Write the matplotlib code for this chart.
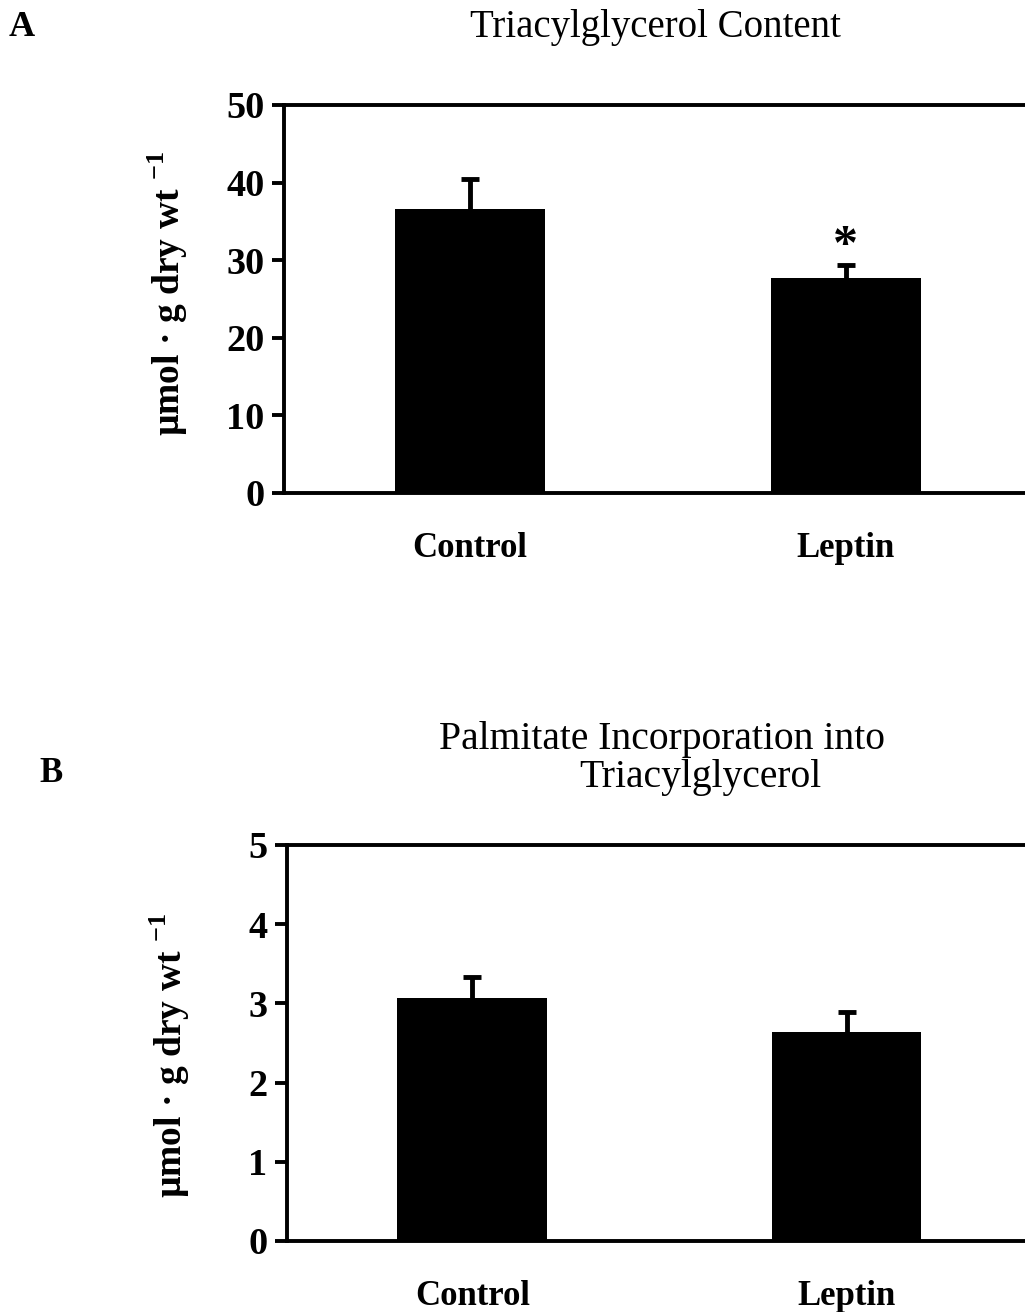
import matplotlib
matplotlib.use("Agg")
from matplotlib import pyplot as plt

# values
groups = ["Control", "Leptin"]
tag_means = [36.6, 27.7]
tag_sem = [3.9, 1.7]
palm_means = [3.07, 2.64]
palm_sem = [0.26, 0.25]
significant = [False, True]

plt.rcParams["font.family"] = ["Liberation Serif", "DejaVu Serif"]
plt.rcParams["mathtext.fontset"] = "custom"
plt.rcParams["mathtext.rm"] = "Liberation Serif:bold"
plt.rcParams["mathtext.bf"] = "Liberation Serif:bold"

W, H = 1025, 1312
fig = plt.figure(figsize=(W / 100, H / 100), dpi=100)


def make_axes(left_px, top_px, bottom_px):
    return fig.add_axes([left_px / W, (H - bottom_px) / H,
                         (W + 5 - left_px) / W, (bottom_px - top_px) / H])


def draw_panel(ax, means, sem, ymax, step, stars=None):
    x = list(range(len(groups)))
    ax.bar(x, means, width=0.40, color="black", zorder=2)
    eb = ax.errorbar(x, means, yerr=[[0] * len(sem), sem], fmt="none",
                     ecolor="black", elinewidth=3.5, capsize=6.5, capthick=3.5, zorder=1)
    # only the upper cap is drawn in the original
    eb[1][0].set_visible(False)
    ax.set_xlim(-0.495, 1.49)
    ax.set_ylim(0, ymax)
    ax.set_yticks([i * step for i in range(6)])
    ax.set_xticks(x)
    ax.set_xticklabels(groups, fontsize=25, fontweight="bold")
    for lbl in ax.get_yticklabels():
        lbl.set_fontsize(27.5)
        lbl.set_fontweight("bold")
    ax.tick_params(axis="y", direction="out", length=9, width=2.8, pad=5)
    ax.tick_params(axis="x", length=0, pad=28)
    for s in ["left", "bottom", "top"]:
        ax.spines[s].set_linewidth(2.8)
    ax.spines["right"].set_visible(False)
    if stars:
        for i, flag in enumerate(stars):
            if flag:
                ax.text(i, means[i] + sem[i] + 0.045 * ymax, "*", ha="center", va="center",
                        fontsize=36, fontweight="bold")


ylab = "µmol · g dry wt $^{-1}$"

# Panel A
axA = make_axes(284, 105, 493)
draw_panel(axA, tag_means, tag_sem, 50, 10, significant)
fig.text(168 / W, 1 - 293 / H, ylab, rotation=90, ha="center", va="center",
         fontsize=27, fontweight="bold")
fig.text(655 / W, 1 - 28 / H, "Triacylglycerol Content", ha="center", va="center", fontsize=28)
fig.text(9 / W, 1 - 28 / H, "A", ha="left", va="center", fontsize=26, fontweight="bold")

# Panel B
axB = make_axes(287, 845, 1241)
draw_panel(axB, palm_means, palm_sem, 5, 1)
fig.text(170 / W, 1 - 1055 / H, ylab, rotation=90, ha="center", va="center",
         fontsize=27, fontweight="bold")
fig.text(662 / W, 1 - 740 / H, "Palmitate Incorporation into", ha="center", va="center", fontsize=28.5)
fig.text(700 / W, 1 - 778 / H, "Triacylglycerol", ha="center", va="center", fontsize=28.5)
fig.text(39 / W, 1 - 773 / H, "B", ha="left", va="center", fontsize=25, fontweight="bold")

fig.savefig("out.png", dpi=100)
